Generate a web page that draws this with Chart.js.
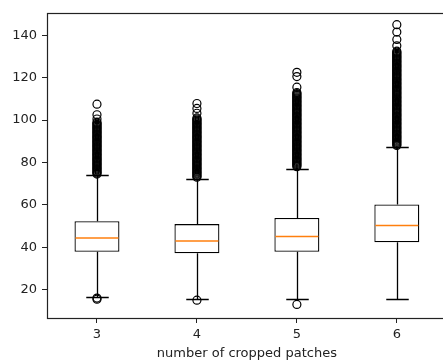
<!DOCTYPE html>
<html>
<head>
<meta charset="utf-8">
<script src="https://cdn.jsdelivr.net/npm/chart.js@4.4.0/dist/chart.umd.min.js"></script>
<style>
  html, body { margin: 0; padding: 0; background: #fff; }
  #wrap { width: 443px; height: 362px; overflow: hidden; }
  canvas { display: block; }
</style>
</head>
<body>
<div id="wrap"><canvas id="chartCanvas" width="452" height="362"></canvas></div>
<script>
// number of cropped patches (categories on the x axis)
const categories = ['3', '4', '5', '6'];
const yTicks = [20, 40, 60, 80, 100, 120, 140];

// box statistics
const q1 = [37.8, 37.1, 37.8, 42.3];
const medians = [44.3, 42.9, 45.0, 50.3];
const q3 = [52.3, 50.9, 53.8, 60.2];
const whiskerLow = [16.4, 15.4, 15.4, 15.4];
const whiskerHigh = [74.3, 72.4, 77.0, 87.1];

// outliers (the dense columns are drawn as many stacked circles)
const fliers3 = [107.5, 102.5, 100.5,
  99, 98.5, 98, 97.5, 97, 96.5, 96, 95.5, 95, 94.5, 94, 93.5, 93, 92.5, 92, 91.5, 91, 90.5,
  90, 89.5, 89, 88.5, 88, 87.5, 87, 86.5, 86, 85.5, 85, 84.5, 84, 83.5, 83, 82.5, 82, 81.5,
  81, 80.5, 80, 79.5, 79, 78.5, 78, 77.5, 77, 76.5, 76, 75.5, 75, 74.5,
  16, 15.5];
const fliers4 = [107.8, 105.5, 103.2,
  101, 100.5, 100, 99.5, 99, 98.5, 98, 97.5, 97, 96.5, 96, 95.5, 95, 94.5, 94, 93.5, 93,
  92.5, 92, 91.5, 91, 90.5, 90, 89.5, 89, 88.5, 88, 87.5, 87, 86.5, 86, 85.5, 85, 84.5, 84,
  83.5, 83, 82.5, 82, 81.5, 81, 80.5, 80, 79.5, 79, 78.5, 78, 77.5, 77, 76.5, 76, 75.5, 75,
  74.5, 74, 73.5, 73,
  15];
const fliers5 = [122.5, 120.5, 115.5,
  113, 112.5, 112, 111.5, 111, 110.5, 110, 109.5, 109, 108.5, 108, 107.5, 107, 106.5, 106,
  105.5, 105, 104.5, 104, 103.5, 103, 102.5, 102, 101.5, 101, 100.5, 100, 99.5, 99, 98.5, 98,
  97.5, 97, 96.5, 96, 95.5, 95, 94.5, 94, 93.5, 93, 92.5, 92, 91.5, 91, 90.5, 90, 89.5, 89,
  88.5, 88, 87.5, 87, 86.5, 86, 85.5, 85, 84.5, 84, 83.5, 83, 82.5, 82, 81.5, 81, 80.5, 80,
  79.5, 79, 78.5, 78,
  13];
const fliers6 = [145, 141.5, 138, 135,
  132.5, 132, 131.5, 131, 130.5, 130, 129.5, 129, 128.5, 128, 127.5, 127, 126.5, 126, 125.5,
  125, 124.5, 124, 123.5, 123, 122.5, 122, 121.5, 121, 120.5, 120, 119.5, 119, 118.5, 118,
  117.5, 117, 116.5, 116, 115.5, 115, 114.5, 114, 113.5, 113, 112.5, 112, 111.5, 111, 110.5,
  110, 109.5, 109, 108.5, 108, 107.5, 107, 106.5, 106, 105.5, 105, 104.5, 104, 103.5, 103,
  102.5, 102, 101.5, 101, 100.5, 100, 99.5, 99, 98.5, 98, 97.5, 97, 96.5, 96, 95.5, 95, 94.5,
  94, 93.5, 93, 92.5, 92, 91.5, 91, 90.5, 90, 89.5, 89, 88.5, 88];
const fliers = [fliers3, fliers4, fliers5, fliers6];

const BOX_WIDTH = 0.45;
const LINE_W = 1.3;
const FONT = { family: 'DejaVu Sans', size: 13 };
const TEXT = '#222';

const flierPoints = [];
fliers.forEach((list, i) => {
  list.forEach(v => flierPoints.push({ x: categories[i], y: v }));
});

// whiskers, caps, medians and the spines
const boxLines = {
  id: 'boxLines',
  beforeDatasetsDraw(chart) {
    const { ctx, scales: { x, y } } = chart;
    const unit = x.getPixelForValue(1) - x.getPixelForValue(0);
    const capHalf = unit * BOX_WIDTH / 4;
    ctx.save();
    ctx.strokeStyle = '#000';
    ctx.lineWidth = LINE_W;
    categories.forEach((c, i) => {
      const cx = Math.round(x.getPixelForValue(i)) + 0.5;
      const lo = Math.round(y.getPixelForValue(whiskerLow[i])) + 0.5;
      const hi = Math.round(y.getPixelForValue(whiskerHigh[i])) + 0.5;
      ctx.beginPath();
      ctx.moveTo(cx, y.getPixelForValue(q1[i]));
      ctx.lineTo(cx, lo);
      ctx.moveTo(cx, y.getPixelForValue(q3[i]));
      ctx.lineTo(cx, hi);
      ctx.moveTo(cx - capHalf, lo);
      ctx.lineTo(cx + capHalf, lo);
      ctx.moveTo(cx - capHalf, hi);
      ctx.lineTo(cx + capHalf, hi);
      ctx.stroke();
    });
    ctx.restore();
  },
  afterDatasetsDraw(chart) {
    const { ctx, scales: { x, y } } = chart;
    const unit = x.getPixelForValue(1) - x.getPixelForValue(0);
    const half = unit * BOX_WIDTH / 2 - 1;
    ctx.save();
    ctx.strokeStyle = '#ff7f0e';
    ctx.lineWidth = 1.5;
    categories.forEach((c, i) => {
      const cx = x.getPixelForValue(i);
      const my = y.getPixelForValue(medians[i]);
      ctx.beginPath();
      ctx.moveTo(cx - half, my);
      ctx.lineTo(cx + half, my);
      ctx.stroke();
    });
    ctx.restore();
  },
  afterDraw(chart) {
    const { ctx, chartArea: a } = chart;
    const l = Math.round(a.left) + 0.5, t = Math.round(a.top) + 0.5;
    const b = Math.round(a.bottom) + 0.5, r = Math.round(a.right) + 0.5;
    ctx.save();
    ctx.strokeStyle = '#222';
    ctx.lineWidth = 1.2;
    ctx.strokeRect(l, t, r - l, b - t);
    ctx.restore();
  }
};

const ctx = document.getElementById('chartCanvas').getContext('2d');
new Chart(ctx, {
  type: 'bar',
  data: {
    labels: categories,
    datasets: [{
      data: categories.map((c, i) => [q1[i], q3[i]]),
      backgroundColor: '#fff',
      borderColor: '#000',
      borderWidth: LINE_W,
      borderSkipped: false,
      barPercentage: BOX_WIDTH,
      categoryPercentage: 1
    }, {
      type: 'line',
      data: flierPoints,
      showLine: false,
      pointRadius: 4,
      pointBorderWidth: 1.2,
      pointBorderColor: '#000',
      pointBackgroundColor: 'rgba(0,0,0,0)'
    }]
  },
  options: {
    responsive: false,
    animation: false,
    layout: { padding: { left: 0, top: 6, right: 1, bottom: 0 } },
    plugins: { legend: { display: false }, tooltip: { enabled: false } },
    scales: {
      x: {
        type: 'category',
        offset: true,
        grid: { offset: false, drawOnChartArea: false, tickLength: 5, tickColor: '#222' },
        border: { display: false },
        ticks: { color: TEXT, font: FONT, padding: 4, maxRotation: 0 },
        title: { display: true, text: 'number of cropped patches', color: TEXT, font: FONT, padding: { top: 0, bottom: 1 } },
        afterFit: s => { s.height = 44; }
      },
      y: {
        min: 6.6,
        max: 150.6,
        grid: { drawOnChartArea: false, tickLength: 5, tickColor: '#222' },
        border: { display: false },
        ticks: { color: TEXT, font: FONT, padding: 5 },
        afterBuildTicks: s => { s.ticks = yTicks.map(v => ({ value: v })); },
        afterFit: s => { s.width = 47; }
      }
    }
  },
  plugins: [boxLines]
});
</script>
</body>
</html>
